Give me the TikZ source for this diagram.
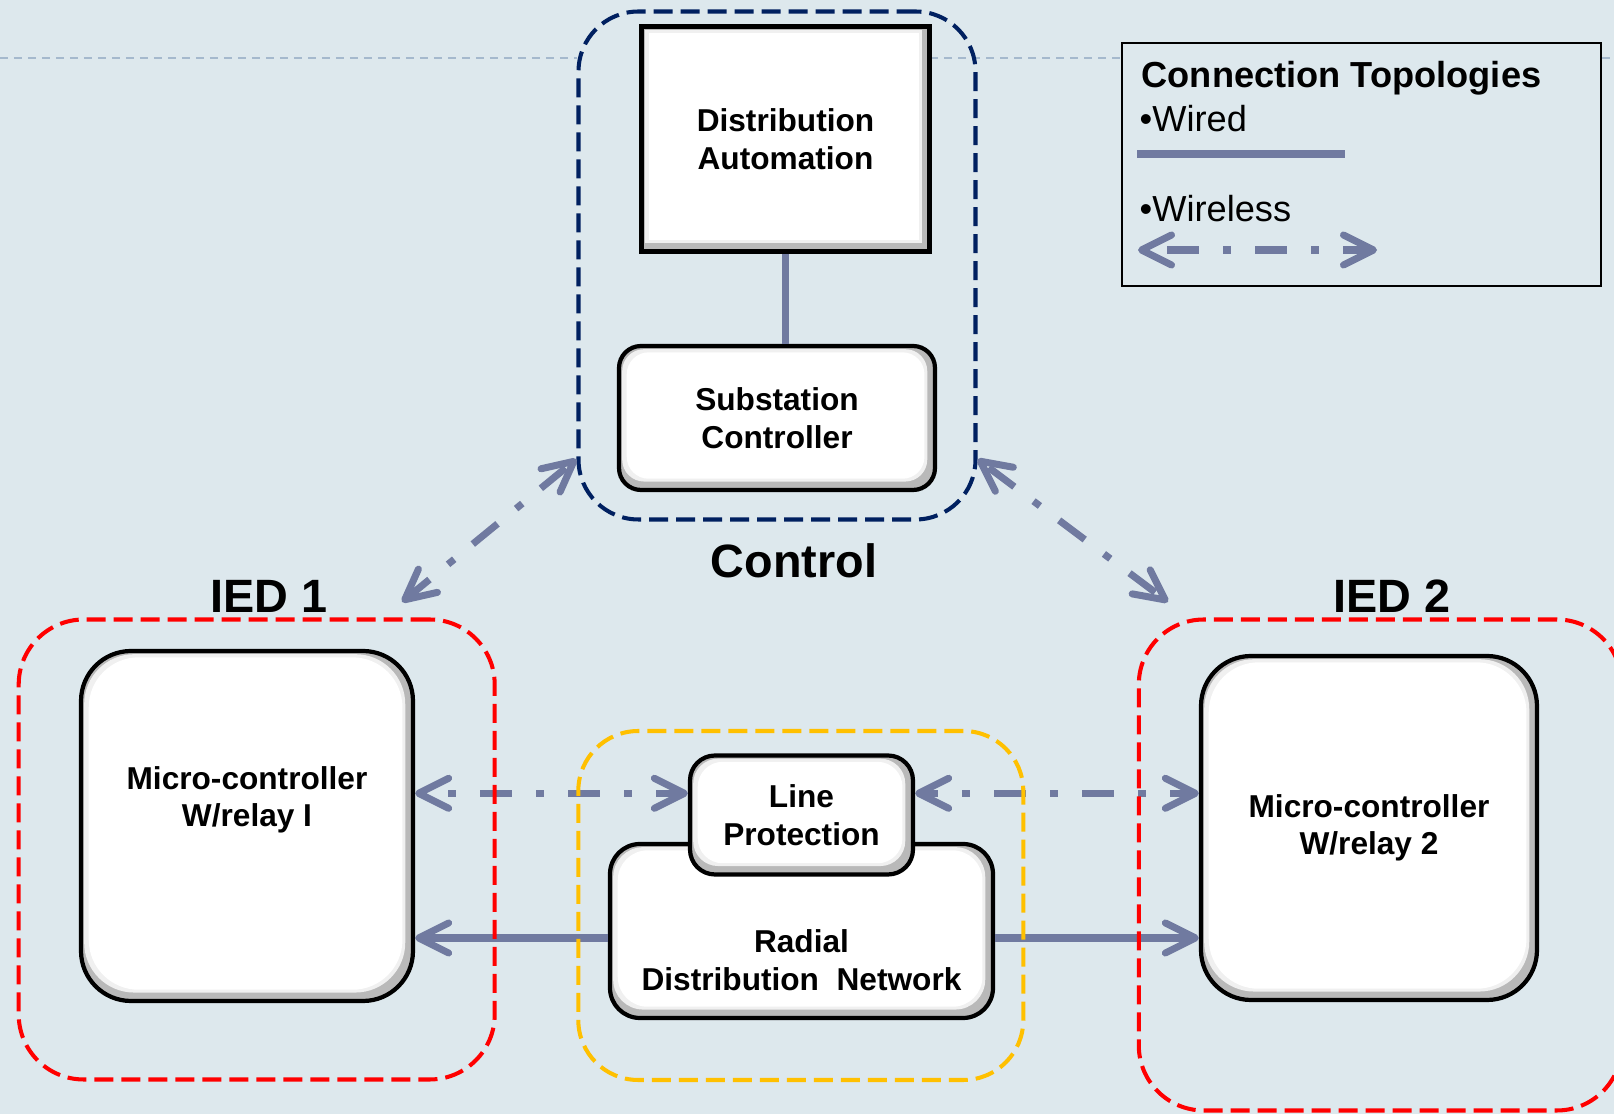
\documentclass[tikz,border=0pt]{standalone}
\usepackage{fontspec}
\setmainfont{Liberation Sans}
\usetikzlibrary{arrows.meta}
\definecolor{bgcolor}{RGB}{221,232,237}
\definecolor{linkcolor}{RGB}{112,122,160}
\definecolor{ctrlcolor}{RGB}{0,32,96}
\definecolor{iedcolor}{RGB}{255,0,0}
\definecolor{netcolor}{RGB}{255,192,0}
\definecolor{gridcolor}{RGB}{165,185,205}

\tikzset{
  bevelbox/.style={draw=black, line width=1.2pt, fill=gray!55, rounded corners=#1, inner sep=0pt,
    font=\fontsize{9}{10.7}\selectfont\bfseries, align=center,
    path picture={
      \fill[gray!12, rounded corners=#1] ([shift={(0.9pt,2.4pt)}]path picture bounding box.south west) rectangle ([shift={(-2.2pt,-0.9pt)}]path picture bounding box.north east);
      \fill[white, rounded corners=#1] ([shift={(2.2pt,3.2pt)}]path picture bounding box.south west) rectangle ([shift={(-3.0pt,-1.8pt)}]path picture bounding box.north east);
    }},
  groupbox/.style={draw=#1, line width=1.15pt, dash pattern=on 1.9mm off 0.8mm, rounded corners=6mm, inner sep=0pt},
  grouplabel/.style={font=\fontsize{13.3}{16}\selectfont\bfseries, inner sep=0pt},
  boxtext/.style={font=\fontsize{9}{10.7}\selectfont\bfseries, align=center, inner sep=0pt},
  legendtext/.style={font=\fontsize{10.3}{12.4}\selectfont, anchor=base west, inner sep=0pt},
  gridline/.style={draw=gridcolor, line width=0.6pt, dash pattern=on 0.8mm off 0.6mm},
  wired/.style={draw=linkcolor, line width=2pt},
  wireless/.style={draw=linkcolor, line width=2pt, dash pattern=on 3.2mm off 2.4mm on 0.8mm off 2.4mm},
}

\begin{document}
\begin{tikzpicture}[x=0.1mm, y=-0.1mm, >={Straight Barb[round,length=3mm,width=3mm]}]
    \useasboundingbox (0,0) rectangle (1614,1114);
    \fill[bgcolor] (0,0) rectangle (1614,1114);

    % Ligne de fond
    \draw[gridline] (0,58) -- (577,58);
    \draw[gridline] (930,58) -- (1614,58);

    % Groupe Control
    \node[groupbox=ctrlcolor, minimum width=39.7mm, minimum height=50.8mm] (ctrl) at (777,265.5) {};
    \node[bevelbox=0pt, line width=1.4pt, minimum width=28.8mm, minimum height=22.5mm] (da) at (785.5,139) {Distribution\\Automation};
    \node[bevelbox=2.2mm, minimum width=31.6mm, minimum height=14.4mm] (sc) at (777,418) {Substation\\Controller};
    \node[grouplabel] (ctrl label) at (794,561) {Control};

    % Legende
    \node[draw, line width=0.7pt, fill=bgcolor, minimum width=47.9mm, minimum height=24.3mm] (legend) at (1361.5,164.5) {};
    \node[legendtext, font=\fontsize{10.3}{12.4}\selectfont\bfseries] (legend title) at (1141,88) {Connection Topologies};
    \node[legendtext] (wired label) at (1139,131.7) {•Wired};
    \node[legendtext] (wireless label) at (1139,221.7) {•Wireless};
    \coordinate (wired a) at (1137,154);
    \coordinate (wired b) at (1345,154);
    \coordinate (wireless a) at (1138,250);
    \coordinate (wireless b) at (1377,250);
    \draw[wired] (wired a) -- (wired b);
    \draw[wireless, <->, dash phase=6.6mm] (wireless a) -- (wireless b);

    % IED
    \node[bevelbox=5mm, minimum width=33.2mm, minimum height=35mm] (mc1) at (247,826) {};
    \node[boxtext] (mc1 text) at (247,800) {Micro-controller\\W/relay I};
    \node[bevelbox=5mm, minimum width=33.6mm, minimum height=34.4mm] (mc2) at (1369,828) {Micro-controller\\W/relay 2};
    \node[grouplabel] (ied1 label) at (269,596) {IED 1};
    \node[grouplabel] (ied2 label) at (1392,596) {IED 2};

    % Reseau radial
    \node[bevelbox=3mm, minimum width=38.3mm, minimum height=17.4mm] (radial) at (801.5,931) {};
    \node[boxtext] (radial text) at (801.5,960.5) {Radial\\Distribution~~Network};
    \node[bevelbox=2.5mm, minimum width=22.3mm, minimum height=11.9mm] (lp) at (801.5,815) {Line\\Protection};

    % Liaisons
    \draw[wired] (da.south) -- (da.south |- sc.north);
    \coordinate (lp left) at ([yshift=2.17mm]lp.west);
    \coordinate (lp right) at ([yshift=2.17mm]lp.east);
    \draw[wireless, <->, dash phase=3mm] (mc1.east |- lp left) -- (lp left);
    \draw[wireless, <->, dash phase=1.6mm] (lp right) -- (mc2.west |- lp right);
    \coordinate (rdn left) at ([yshift=-0.7mm]radial.west);
    \coordinate (rdn right) at ([yshift=-0.7mm]radial.east);
    \draw[wired, ->] (rdn left) -- (mc1.east |- rdn left);
    \draw[wired, ->] (rdn right) -- (mc2.west |- rdn right);
    \coordinate (ied1 tip) at (402,602);
    \coordinate (ied2 tip) at (1168,602);
    \draw[wireless, <->, dash phase=8.1mm] (ctrl.224) -- (ied1 tip);
    \draw[wireless, <->, dash phase=8.1mm] (ctrl.316) -- (ied2 tip);

    % Cadres des groupes
    \node[groupbox=iedcolor, minimum width=47.6mm, minimum height=46mm, rounded corners=6.5mm] (ied1) at (256.7,849.5) {};
    \node[groupbox=iedcolor, minimum width=48.3mm, minimum height=49.1mm, rounded corners=6.5mm] (ied2) at (1380.3,865) {};
    \node[groupbox=netcolor, minimum width=44.5mm, minimum height=34.9mm] (rdn) at (800.8,905.5) {};
\end{tikzpicture}
\end{document}
